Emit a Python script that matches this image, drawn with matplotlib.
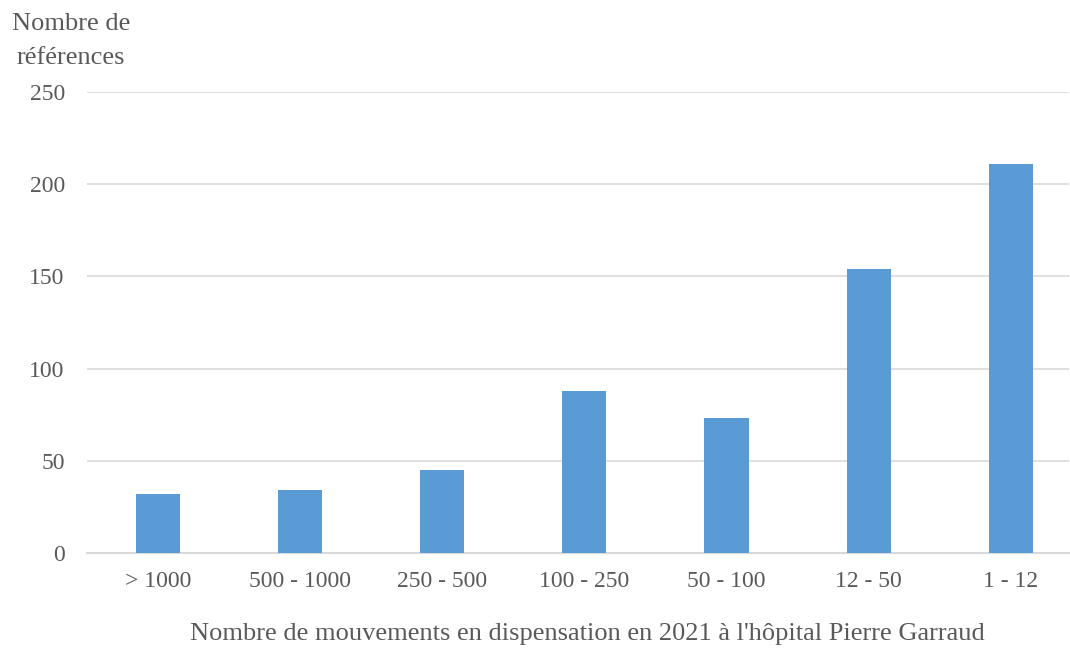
import numpy as np
import matplotlib.pyplot as plt

# Nombre de références par tranche de mouvements
categories = ["> 1000", "500 - 1000", "250 - 500", "100 - 250", "50 - 100", "12 - 50", "1 - 12"]
references = [32, 34, 45, 88, 73, 154, 211]
yticks = [0, 50, 100, 150, 200, 250]

TEXT = "#595959"
GRID = "#D9D9D9"
BAR = "#5B9BD5"

plt.rcParams['font.family'] = ['Liberation Serif', 'DejaVu Serif']

fig = plt.figure(figsize=(10.7, 6.48), dpi=100)
ax = fig.add_axes([87 / 1070, 95 / 648, (1069 - 87) / 1070, (553 - 92) / 648])

x = np.arange(len(categories))
ax.bar(x, references, width=0.31, color=BAR, zorder=3)

ax.set_ylim(0, 250)
ax.set_yticks(yticks)
ax.set_xlim(-0.5, 6.41)
ax.set_xticks(x)
ax.set_xticklabels(categories)

ax.grid(axis='y', color=GRID, linewidth=1.2, zorder=0)
for side in ['top', 'right', 'left']:
    ax.spines[side].set_visible(False)
ax.spines['bottom'].set_color(GRID)
ax.spines['bottom'].set_linewidth(1.5)

ax.tick_params(axis='both', length=0, labelsize=17, labelcolor=TEXT)
ax.tick_params(axis='y', pad=16)
ax.tick_params(axis='x', pad=13)

ax.set_xlabel("Nombre de mouvements en dispensation en 2021 à l'hôpital Pierre Garraud",
              fontsize=19, color=TEXT)
ax.xaxis.set_label_coords(0.51, -0.152)
fig.text(71 / 1070, 1 - 41 / 648, "Nombre de\nréférences", fontsize=19, color=TEXT,
         ha='center', va='center', linespacing=1.72)

fig.savefig("out.png", dpi=100)
